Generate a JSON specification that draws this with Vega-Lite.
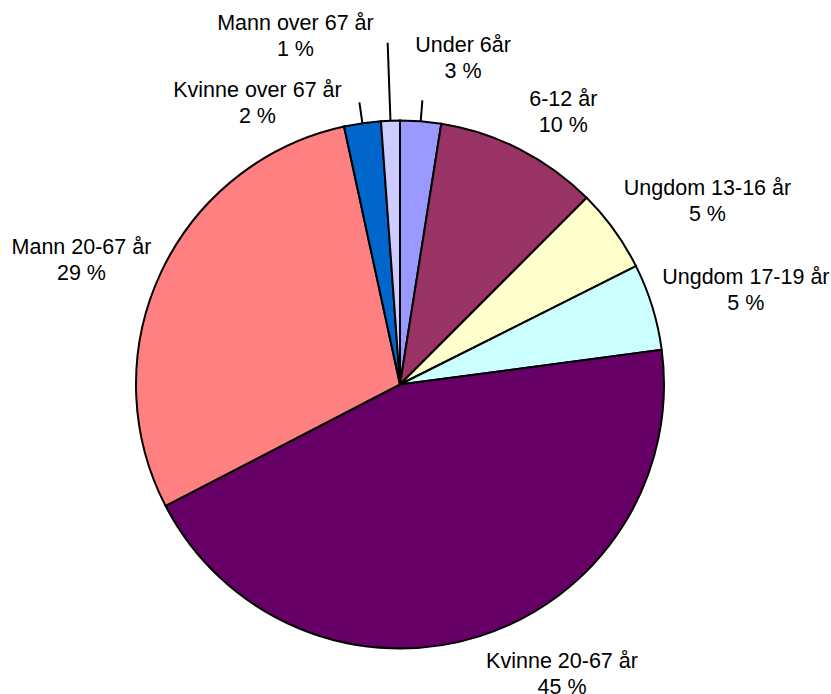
{
  "$schema": "https://vega.github.io/schema/vega-lite/v6.json",
  "width": 800,
  "height": 619,
  "autosize": {"type": "none"},
  "padding": {"left": 0, "top": 75, "right": 31, "bottom": 0},
  "background": "white",
  "view": {"stroke": null},
  "data": {
    "values": [
      {"idx": 0, "label": "Under 6år", "value": 2.5, "txt": "Under 6år\n3 %"},
      {"idx": 1, "label": "6-12 år", "value": 10.0, "txt": "6-12 år\n10 %"},
      {"idx": 2, "label": "Ungdom 13-16 år", "value": 5.1, "txt": "Ungdom 13-16 år\n5 %"},
      {"idx": 3, "label": "Ungdom 17-19 år", "value": 5.3, "txt": "Ungdom 17-19 år\n5 %"},
      {"idx": 4, "label": "Kvinne 20-67 år", "value": 44.5, "txt": "Kvinne 20-67 år\n45 %"},
      {"idx": 5, "label": "Mann 20-67 år", "value": 29.2, "txt": "Mann 20-67 år\n29 %"},
      {"idx": 6, "label": "Kvinne over 67 år", "value": 2.25, "txt": "Kvinne over 67 år\n2 %"},
      {"idx": 7, "label": "Mann over 67 år", "value": 1.15, "txt": "Mann over 67 år\n1 %"}
    ]
  },
  "encoding": {
    "theta": {"field": "value", "type": "quantitative", "stack": true},
    "order": {"field": "idx", "type": "quantitative", "sort": "ascending"}
  },
  "layer": [
    {
      "mark": {"type": "arc", "radius": 264, "stroke": "black", "strokeWidth": 2},
      "encoding": {
        "color": {
          "field": "label",
          "type": "nominal",
          "scale": {
            "domain": ["Under 6år", "6-12 år", "Ungdom 13-16 år", "Ungdom 17-19 år", "Kvinne 20-67 år", "Mann 20-67 år", "Kvinne over 67 år", "Mann over 67 år"],
            "range": ["#9999FF", "#993366", "#FFFFCC", "#CCFFFF", "#660066", "#FF8080", "#0066CC", "#CCCCFF"]
          },
          "legend": null
        }
      }
    },
    {
      "mark": {
        "type": "arc",
        "filled": false,
        "stroke": "black",
        "strokeWidth": 2,
        "strokeJoin": "bevel",
        "strokeCap": "butt",
        "radius": {"expr": "datum.value < 1.5 ? 342 : 285"},
        "radius2": 264,
        "padAngle": 0.3
      },
      "encoding": {
        "detail": {"field": "label"},
        "strokeOpacity": {"condition": {"test": "datum.value < 3", "value": 1}, "value": 0}
      }
    },
    {
      "mark": {
        "type": "text",
        "radius": 320,
        "font": "Liberation Sans",
        "fontSize": 21.5,
        "lineHeight": 26,
        "lineBreak": "\n",
        "color": "black",
        "dx": {"expr": "[38, 18, 48, 40, 66, -29, -97, -93][datum.idx]"},
        "dy": {"expr": "[-19, 1, -8, -12, -28, 0, 23, -41][datum.idx]"}
      },
      "encoding": {
        "text": {"field": "txt"},
        "detail": {"field": "label"}
      }
    }
  ]
}
